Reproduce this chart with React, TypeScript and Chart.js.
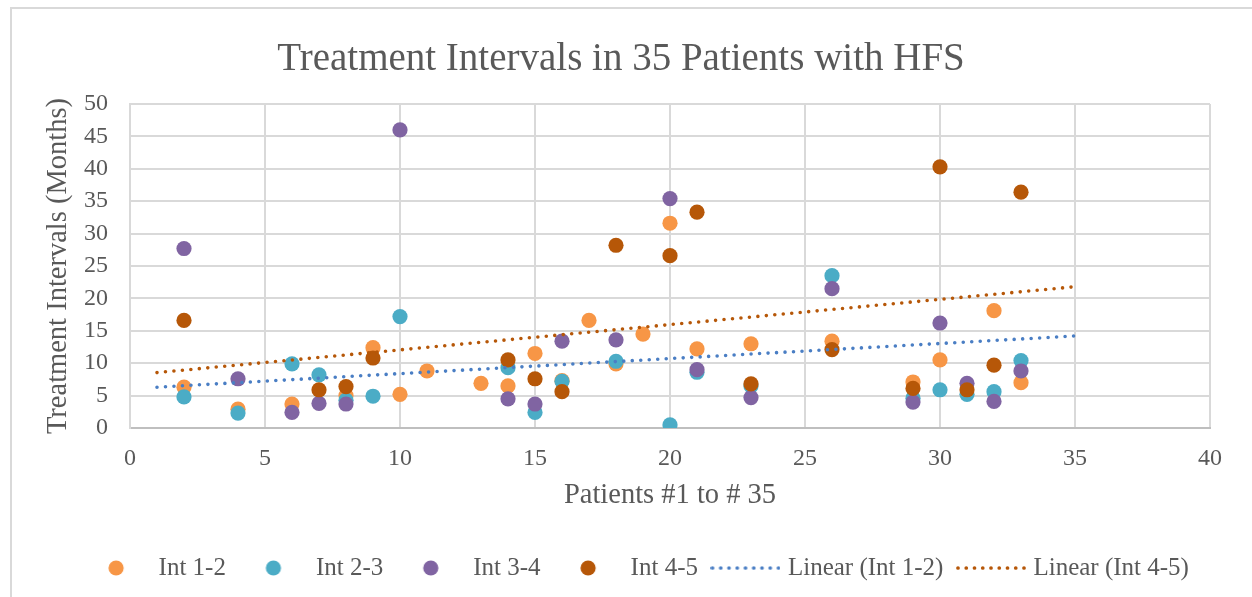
import React, { useEffect, useRef } from "react";
import { Chart, registerables } from "chart.js";

Chart.register(...registerables);

const FONT = "'Liberation Serif', 'Times New Roman', serif";
const TEXT = "#595959";

const chartTitle = "Treatment Intervals in 35 Patients with HFS";
const xTitle = "Patients #1 to # 35";
const yTitle = "Treatment Intervals (Months)";

const seriesNames = ["Int 1-2", "Int 2-3", "Int 3-4", "Int 4-5"];
const trendNames = ["Linear (Int 1-2)", "Linear (Int 4-5)"];
const seriesColors = ["#F79646", "#4BACC6", "#8064A2", "#B65708"];
const trendColors = ["#4A7EC4", "#B65708"];

const int12Patients = [2, 4, 6, 8, 9, 10, 11, 13, 14, 15, 16, 17, 18, 19, 20, 21, 23, 26, 29, 30, 32, 33];
const int12Months = [6.3, 2.9, 3.7, 5.0, 12.4, 5.2, 8.8, 6.9, 6.5, 11.5, 7.3, 16.6, 9.9, 14.5, 31.6, 12.2, 13.0, 13.4, 7.1, 10.5, 18.1, 7.0];

const int23Patients = [2, 4, 6, 7, 8, 9, 10, 14, 15, 16, 18, 20, 21, 23, 26, 29, 30, 31, 32, 33];
const int23Months = [4.8, 2.3, 9.9, 8.2, 4.3, 4.9, 17.2, 9.3, 2.4, 7.2, 10.3, 0.5, 8.6, 6.5, 23.5, 4.6, 5.9, 5.2, 5.6, 10.4];

const int34Patients = [2, 4, 6, 7, 8, 10, 14, 15, 16, 18, 20, 21, 23, 26, 29, 30, 31, 32, 33];
const int34Months = [27.7, 7.6, 2.4, 3.8, 3.7, 46.0, 4.5, 3.7, 13.4, 13.6, 35.4, 9.0, 4.7, 21.5, 4.0, 16.2, 6.9, 4.1, 8.8];

const int45Patients = [2, 7, 8, 9, 14, 15, 16, 18, 20, 21, 23, 26, 29, 30, 31, 32, 33];
const int45Months = [16.6, 5.9, 6.4, 10.8, 10.5, 7.6, 5.6, 28.2, 26.6, 33.3, 6.8, 12.1, 6.1, 40.3, 5.9, 9.7, 36.4];

// trendline end points
const trend12X = [1, 35];
const trend12Y = [6.3, 14.2];
const trend45X = [1, 35];
const trend45Y = [8.55, 21.8];

const xTicks = [0, 5, 10, 15, 20, 25, 30, 35, 40];
const yTicks = [0, 5, 10, 15, 20, 25, 30, 35, 40, 45, 50];

const toPoints = (xs: number[], ys: number[]) => xs.map((x, i) => ({ x, y: ys[i] }));

function makeIcon(kind: "circle" | "dots", color: string): HTMLCanvasElement {
  const c = document.createElement("canvas");
  c.width = 70;
  c.height = 18;
  const g = c.getContext("2d")!;
  g.fillStyle = color;
  if (kind === "circle") {
    g.beginPath();
    g.arc(35, 9, 7.6, 0, Math.PI * 2);
    g.fill();
  } else {
    for (let i = 0; i < 9; i++) {
      g.beginPath();
      g.arc(2 + i * 8.25, 9, 1.85, 0, Math.PI * 2);
      g.fill();
    }
  }
  return c;
}

const titlePlugin = {
  id: "customTitle",
  afterDraw(chart: any) {
    const ctx = chart.ctx;
    ctx.save();
    ctx.font = `39px ${FONT}`;
    ctx.fillStyle = TEXT;
    ctx.textAlign = "center";
    ctx.textBaseline = "alphabetic";
    ctx.fillText(chartTitle, 621, 70);
    ctx.restore();
  },
};

export default function App() {
  const ref = useRef<HTMLCanvasElement | null>(null);

  useEffect(() => {
    if (!ref.current) return;
    const icons = [
      makeIcon("circle", seriesColors[0]),
      makeIcon("circle", seriesColors[1]),
      makeIcon("circle", seriesColors[2]),
      makeIcon("circle", seriesColors[3]),
      makeIcon("dots", trendColors[0]),
      makeIcon("dots", trendColors[1]),
    ];
    const seriesData = [
      toPoints(int12Patients, int12Months),
      toPoints(int23Patients, int23Months),
      toPoints(int34Patients, int34Months),
      toPoints(int45Patients, int45Months),
    ];
    const scatterSets = seriesNames.map((name, i) => ({
      label: name,
      data: seriesData[i],
      backgroundColor: seriesColors[i],
      borderColor: seriesColors[i],
      pointRadius: 7.6,
      pointHoverRadius: 7.6,
      pointBorderWidth: 0,
      showLine: false,
      order: 4 - i,
    }));
    const trendData = [toPoints(trend12X, trend12Y), toPoints(trend45X, trend45Y)];
    const trendSets = trendNames.map((name, i) => ({
      label: name,
      data: trendData[i],
      showLine: true,
      borderColor: trendColors[i],
      backgroundColor: trendColors[i],
      borderWidth: 3.6,
      borderDash: [0, 8.5],
      borderCapStyle: "round",
      pointRadius: 0,
      pointHoverRadius: 0,
      order: 0,
    }));

    const chart = new Chart(ref.current, {
      type: "scatter",
      data: { datasets: [...scatterSets, ...trendSets] as any },
      plugins: [titlePlugin],
      options: {
        animation: false,
        responsive: false,
        devicePixelRatio: 1,
        events: [],
        layout: { padding: { left: 23, right: 0, top: 104, bottom: 6.5 } },
        plugins: {
          title: { display: false },
          tooltip: { enabled: false },
          legend: {
            display: true,
            position: "bottom",
            labels: {
              usePointStyle: true,
              pointStyleWidth: 60,
              boxWidth: 60,
              padding: 17.5,
              color: TEXT,
              font: { family: FONT, size: 25 },
              generateLabels: (c: any) =>
                c.data.datasets.map((ds: any, i: number) => ({
                  text: ds.label,
                  datasetIndex: i,
                  pointStyle: icons[i],
                  fillStyle: "rgba(0,0,0,0)",
                  strokeStyle: "rgba(0,0,0,0)",
                  lineWidth: 0,
                  hidden: false,
                  fontColor: TEXT,
                })),
            },
          },
        },
        scales: {
          x: {
            type: "linear",
            position: "bottom",
            min: xTicks[0],
            max: xTicks[xTicks.length - 1],
            afterBuildTicks: (s: any) => {
              s.ticks = xTicks.map((v) => ({ value: v }));
            },
            ticks: { color: TEXT, font: { family: FONT, size: 24 }, padding: 16 },
            grid: { color: "#d9d9d9", lineWidth: 2, drawTicks: false },
            border: { color: "#bfbfbf", width: 2 },
            title: {
              display: true,
              text: xTitle,
              color: TEXT,
              font: { family: FONT, size: 28.5 },
              padding: { top: 0, bottom: 25.5 },
            },
            afterFit: (s: any) => {
              s.height = 110;
            },
          },
          y: {
            type: "linear",
            position: "left",
            min: yTicks[0],
            max: yTicks[yTicks.length - 1],
            afterBuildTicks: (s: any) => {
              s.ticks = yTicks.map((v) => ({ value: v }));
            },
            ticks: { color: TEXT, font: { family: FONT, size: 24 }, padding: 22 },
            grid: { color: "#d9d9d9", lineWidth: 2, drawTicks: false },
            border: { color: "#d9d9d9", width: 2 },
            title: {
              display: true,
              text: yTitle,
              color: TEXT,
              font: { family: FONT, size: 28.5 },
              padding: { top: 18.3, bottom: 0 },
            },
            afterFit: (s: any) => {
              s.width = 107;
            },
          },
          yRight: {
            type: "linear",
            position: "right",
            display: true,
            ticks: { display: false },
            grid: { display: false },
            border: { display: false },
            afterFit: (s: any) => {
              s.width = 42;
            },
          },
        },
      } as any,
    });
    return () => chart.destroy();
  }, []);

  return (
    <div
      style={{
        position: "fixed",
        left: 0,
        top: 0,
        width: 1252,
        height: 597,
        background: "#ffffff",
        overflow: "hidden",
      }}
    >
      <div
        style={{
          position: "absolute",
          left: 10,
          top: 7,
          width: 1400,
          height: 800,
          borderLeft: "2px solid #d9d9d9",
          borderTop: "2px solid #d9d9d9",
          boxSizing: "border-box",
        }}
      />
      <canvas
        ref={ref}
        width={1252}
        height={597}
        style={{ position: "absolute", left: 0, top: 0, width: 1252, height: 597 }}
      />
    </div>
  );
}
